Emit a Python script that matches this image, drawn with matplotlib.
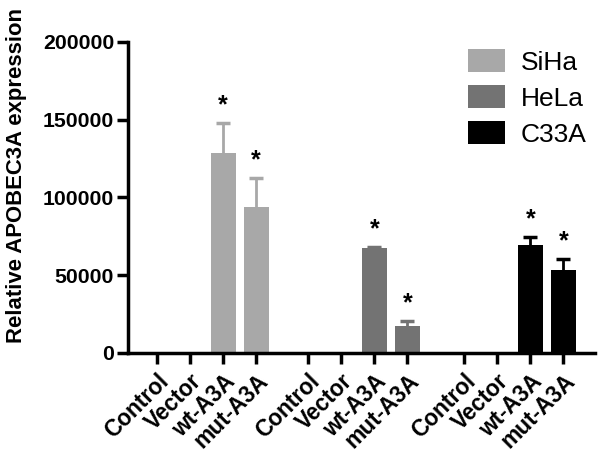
import numpy as np
import matplotlib.pyplot as plt

plt.rcParams['font.family'] = ['Liberation Sans', 'DejaVu Sans']

# data
conditions = ["Control", "Vector", "wt-A3A", "mut-A3A"]
cell_lines = ["SiHa", "HeLa", "C33A"]
colors = ["#a8a8a8", "#737373", "#000000"]
means = [
    [0, 0, 128600, 93900],
    [0, 0, 67500, 17600],
    [0, 0, 69500, 53400],
]
errs = [
    [0, 0, 19300, 18600],
    [0, 0, 500, 3200],
    [0, 0, 5300, 7000],
]
signif = [
    [False, False, True, True],
    [False, False, True, True],
    [False, False, True, True],
]
group_starts = [0, 4.58, 9.3]

fig = plt.figure(figsize=(6, 4.59), dpi=100)
ax = fig.add_axes([0.2133, 0.231, 0.779, 0.6775])

ticks = []
labels = []
for g, name in enumerate(cell_lines):
    xs = group_starts[g] + np.arange(len(conditions))
    ax.bar(xs, means[g], width=0.76, color=colors[g], label=name, zorder=2)
    m = np.array(means[g])
    e = np.array(errs[g])
    has = e > 0
    ax.errorbar(xs[has], m[has], yerr=e[has], fmt='none',
                ecolor=colors[g], elinewidth=2, capsize=5, capthick=2.5, zorder=1)
    for x, mv, ev, s in zip(xs, m, e, signif[g]):
        if s:
            ax.annotate("*", (x, mv + ev), xytext=(0, 4), textcoords='offset points',
                        ha='center', va='bottom', fontsize=18, fontweight='bold')
    ticks.extend(xs)
    labels.extend(conditions)

ax.set_xlim(-0.88, 13.27)
ax.set_ylim(0, 200000)
ax.set_yticks([0, 50000, 100000, 150000, 200000])
ax.set_yticklabels(["0", "50000", "100000", "150000", "200000"],
                   fontsize=15.3, fontweight='bold')
ax.set_xticks(ticks)
ax.set_xticklabels(labels, rotation=45, ha='right', rotation_mode='anchor',
                   fontsize=16.3, fontweight='bold')
ax.set_ylabel("Relative APOBEC3A expression", fontsize=15.9, fontweight='bold')
ax.yaxis.set_label_coords(-0.2163, 0.572)

for side in ['top', 'right']:
    ax.spines[side].set_visible(False)
for side in ['left', 'bottom']:
    ax.spines[side].set_linewidth(2.5)
ax.tick_params(axis='both', width=2.5, length=8)
ax.tick_params(axis='y', pad=2)
ax.tick_params(axis='x', pad=4)

leg = ax.legend(loc='upper right', bbox_to_anchor=(1.004, 1.01), frameon=False,
                fontsize=19, handlelength=1.4, handleheight=0.95,
                labelspacing=0.4, handletextpad=0.6, borderaxespad=0)

fig.savefig("out.png", dpi=100)
